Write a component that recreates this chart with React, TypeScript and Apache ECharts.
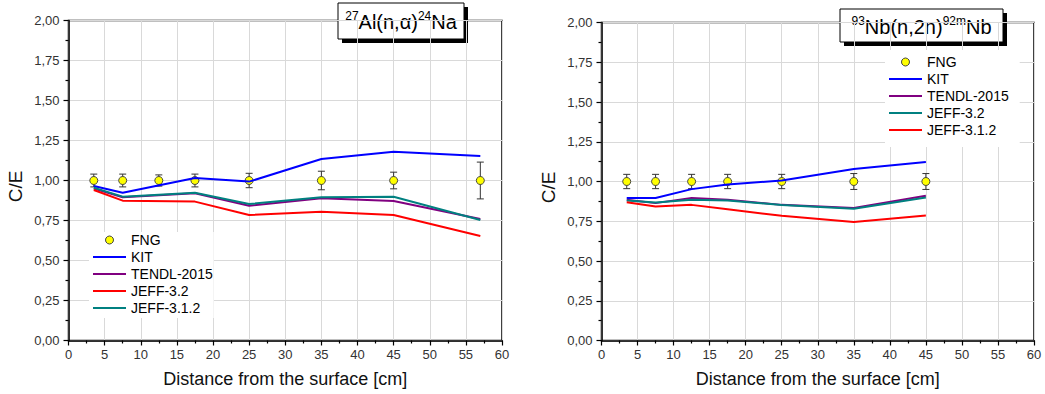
import React, { useEffect, useRef } from "react";
import * as echarts from "echarts";

const FONT = '"Liberation Sans", Arial, Helvetica, sans-serif';

// ---------- Left chart: 27Al(n,a)24Na ----------
const alFngX = [3.5, 7.5, 12.5, 17.5, 25, 35, 45, 57];
const alFngY = [1.0, 1.0, 1.0, 1.0, 1.0, 1.0, 1.0, 1.0];
const alFngErr = [0.04, 0.04, 0.035, 0.04, 0.045, 0.058, 0.052, 0.115];
const alCalcX = [3.5, 7.5, 17.5, 25, 35, 45, 57];
const alKIT = [0.966, 0.924, 1.016, 0.993, 1.134, 1.18, 1.153];
const alTENDL = [0.95, 0.895, 0.92, 0.842, 0.889, 0.872, 0.759];
const alJEFF32 = [0.941, 0.874, 0.868, 0.784, 0.805, 0.784, 0.653];
const alJEFF312 = [0.955, 0.899, 0.924, 0.853, 0.895, 0.899, 0.753];

// ---------- Right chart: 93Nb(n,2n)92mNb ----------
const nbFngX = [3.5, 7.5, 12.5, 17.5, 25, 35, 45];
const nbFngY = [1.0, 1.0, 1.0, 1.0, 1.0, 1.0, 1.0];
const nbFngErr = [0.045, 0.045, 0.045, 0.045, 0.045, 0.05, 0.05];
const nbCalcX = [3.5, 7.5, 12.5, 17.5, 25, 35, 45];
const nbKIT = [0.896, 0.896, 0.952, 0.981, 1.006, 1.078, 1.122];
const nbTENDL = [0.885, 0.864, 0.896, 0.885, 0.853, 0.833, 0.91];
const nbJEFF32 = [0.881, 0.868, 0.885, 0.881, 0.852, 0.828, 0.899];
const nbJEFF312 = [0.87, 0.843, 0.853, 0.826, 0.784, 0.745, 0.786];

const legendNames = ["FNG", "KIT", "TENDL-2015", "JEFF-3.2", "JEFF-3.1.2"];
const xAxisTitle = "Distance from the surface [cm]";
const yAxisTitle = "C/E";

const BLUE = "#0000ff";
const PURPLE = "#800080";
const RED = "#ff0000";
const TEAL = "#008080";
const YELLOW = "#ffff00";

const LINE_ICON = "path://M0,0H33V2H0Z";

const zip = (xs: number[], ys: number[]) => xs.map((x, i) => [x, ys[i]]);

const fmtY = (v: number) => v.toFixed(2).replace(".", ",");

function makeX(gridIndex: number) {
  return {
    type: "value",
    gridIndex,
    min: 0,
    max: 60,
    interval: 5,
    axisLine: { show: true, onZero: false, lineStyle: { color: "#000", width: 1.5 } },
    axisTick: { show: true, length: 5, lineStyle: { color: "#000", width: 1.2 } },
    minorTick: { show: true, splitNumber: 2, length: 3, lineStyle: { color: "#000", width: 1.2 } },
    axisLabel: { fontSize: 13, color: "#333", margin: 7, fontFamily: FONT, showMinLabel: true, showMaxLabel: true },
    splitLine: { show: true, lineStyle: { color: "#d9d9d9", width: 1 } },
    name: xAxisTitle,
    nameLocation: "middle",
    nameGap: 29,
    nameTextStyle: { fontSize: 18, color: "#111", fontFamily: FONT },
  };
}

function makeY(gridIndex: number) {
  return {
    type: "value",
    gridIndex,
    min: 0,
    max: 2,
    interval: 0.25,
    axisLine: { show: true, onZero: false, lineStyle: { color: "#000", width: 1.5 } },
    axisTick: { show: true, length: 5, lineStyle: { color: "#000", width: 1.2 } },
    minorTick: { show: true, splitNumber: 2, length: 3, lineStyle: { color: "#000", width: 1.2 } },
    axisLabel: { fontSize: 13, color: "#333", margin: 9, fontFamily: FONT, formatter: fmtY },
    splitLine: { show: true, lineStyle: { color: "#d9d9d9", width: 1 } },
    name: yAxisTitle,
    nameLocation: "middle",
    nameGap: 44,
    nameTextStyle: { fontSize: 19, color: "#111", fontFamily: FONT, padding: [0, 12, 0, 0] },
  };
}

function errorSeries(idx: number, xs: number[], ys: number[], errs: number[]) {
  return {
    type: "custom",
    name: "FNG error",
    xAxisIndex: idx,
    yAxisIndex: idx,
    z: 1,
    silent: true,
    data: xs.map((x, i) => [x, ys[i], errs[i]]),
    encode: { x: 0, y: 1 },
    renderItem: (params: any, api: any) => {
      const x = api.value(0);
      const y = api.value(1);
      const e = api.value(2);
      const top = api.coord([x, y + e]);
      const bot = api.coord([x, y - e]);
      const hw = 3.5;
      const st = { stroke: "#333", lineWidth: 1 };
      return {
        type: "group",
        children: [
          { type: "line", shape: { x1: top[0], y1: top[1], x2: bot[0], y2: bot[1] }, style: st },
          { type: "line", shape: { x1: top[0] - hw, y1: top[1], x2: top[0] + hw, y2: top[1] }, style: st },
          { type: "line", shape: { x1: bot[0] - hw, y1: bot[1], x2: bot[0] + hw, y2: bot[1] }, style: st },
        ],
      };
    },
  };
}

function fngSeries(idx: number, xs: number[], ys: number[]) {
  return {
    type: "scatter",
    name: "FNG",
    xAxisIndex: idx,
    yAxisIndex: idx,
    z: 2,
    symbol: "circle",
    symbolSize: 8,
    itemStyle: { color: YELLOW, borderColor: "#444", borderWidth: 1, opacity: 1 },
    data: zip(xs, ys),
  };
}

function lineSeries(idx: number, name: string, color: string, xs: number[], ys: number[]) {
  return {
    type: "line",
    name,
    xAxisIndex: idx,
    yAxisIndex: idx,
    z: 3,
    symbol: "none",
    showSymbol: false,
    color,
    lineStyle: { color, width: 2 },
    data: zip(xs, ys),
  };
}

function legendData(colors: string[]) {
  return legendNames.map((n, i) =>
    i === 0
      ? { name: n, icon: "circle", itemStyle: { color: YELLOW, borderColor: "#444", borderWidth: 1 } }
      : { name: n, icon: LINE_ICON, itemStyle: { color: colors[i], borderWidth: 0 } }
  );
}

function legendBase() {
  return {
    orient: "vertical",
    itemWidth: 33,
    itemHeight: 8,
    itemGap: 3,
    backgroundColor: "#fff",
    selectedMode: false,
    textStyle: { fontSize: 14, lineHeight: 14, color: "#000", fontFamily: FONT },
  };
}

function titleBox(x: number, y: number, w: number, h: number, sup1: string, mid: string, sup2: string, end: string, cy: number) {
  return {
    type: "group",
    x,
    y,
    z: 100,
    children: [
      { type: "rect", shape: { x: 4, y: 4, width: w, height: h }, style: { fill: "#000" } },
      { type: "rect", shape: { x: 0, y: 0, width: w, height: h }, style: { fill: "#fff", stroke: "#000", lineWidth: 1 } },
      {
        type: "text",
        x: w / 2,
        y: cy,
        style: {
          text: `{s|${sup1}}{n|${mid}}{s|${sup2}}{n|${end}}`,
          align: "center",
          verticalAlign: "middle",
          fill: "#000",
          rich: {
            n: { fontSize: 20, lineHeight: 24, fontFamily: FONT, fill: "#000", color: "#000" },
            s: { fontSize: 12, lineHeight: 10, verticalAlign: "top", fontFamily: FONT, fill: "#000", color: "#000" },
          },
        },
      },
    ],
  };
}

export default function App() {
  const ref = useRef<HTMLDivElement>(null);
  useEffect(() => {
    if (!ref.current) return;
    const chart = echarts.init(ref.current, undefined, { renderer: "svg" });
    const leftColors = ["", BLUE, PURPLE, RED, TEAL];
    const rightColors = ["", BLUE, PURPLE, TEAL, RED];
    chart.setOption({
      animation: false,
      backgroundColor: "#fff",
      textStyle: { fontFamily: FONT },
      grid: [
        { left: 68.5, top: 20.5, width: 433.5, height: 320, show: true, borderColor: "#000", borderWidth: 1.5 },
        { left: 601.5, top: 22.5, width: 432.5, height: 318, show: true, borderColor: "#000", borderWidth: 1.5 },
      ],
      xAxis: [makeX(0), makeX(1)],
      yAxis: [makeY(0), makeY(1)],
      legend: [
        { ...legendBase(), left: 89, top: 232, padding: [1, 1, 3, 4], data: legendData(leftColors) },
        { ...legendBase(), left: 885, top: 50, padding: [5, 11, 10, 4], data: legendData(rightColors) },
      ],
      series: [
        errorSeries(0, alFngX, alFngY, alFngErr),
        fngSeries(0, alFngX, alFngY),
        lineSeries(0, "KIT", BLUE, alCalcX, alKIT),
        lineSeries(0, "TENDL-2015", PURPLE, alCalcX, alTENDL),
        lineSeries(0, "JEFF-3.1.2", TEAL, alCalcX, alJEFF312),
        lineSeries(0, "JEFF-3.2", RED, alCalcX, alJEFF32),
        errorSeries(1, nbFngX, nbFngY, nbFngErr),
        fngSeries(1, nbFngX, nbFngY),
        lineSeries(1, "KIT", BLUE, nbCalcX, nbKIT),
        lineSeries(1, "TENDL-2015", PURPLE, nbCalcX, nbTENDL),
        lineSeries(1, "JEFF-3.2", TEAL, nbCalcX, nbJEFF32),
        lineSeries(1, "JEFF-3.1.2", RED, nbCalcX, nbJEFF312),
      ],
      graphic: [
        titleBox(338, 3, 126, 36, "27", "Al(n,α)", "24", "Na", 19),
        titleBox(840, 9, 163, 33, "93", "Nb(n,2n)", "92m", "Nb", 18),
      ],
    });
    return () => chart.dispose();
  }, []);
  return (
    <div
      ref={ref}
      style={{ position: "absolute", left: 0, top: 0, width: 1045, height: 394, background: "#fff" }}
    />
  );
}
